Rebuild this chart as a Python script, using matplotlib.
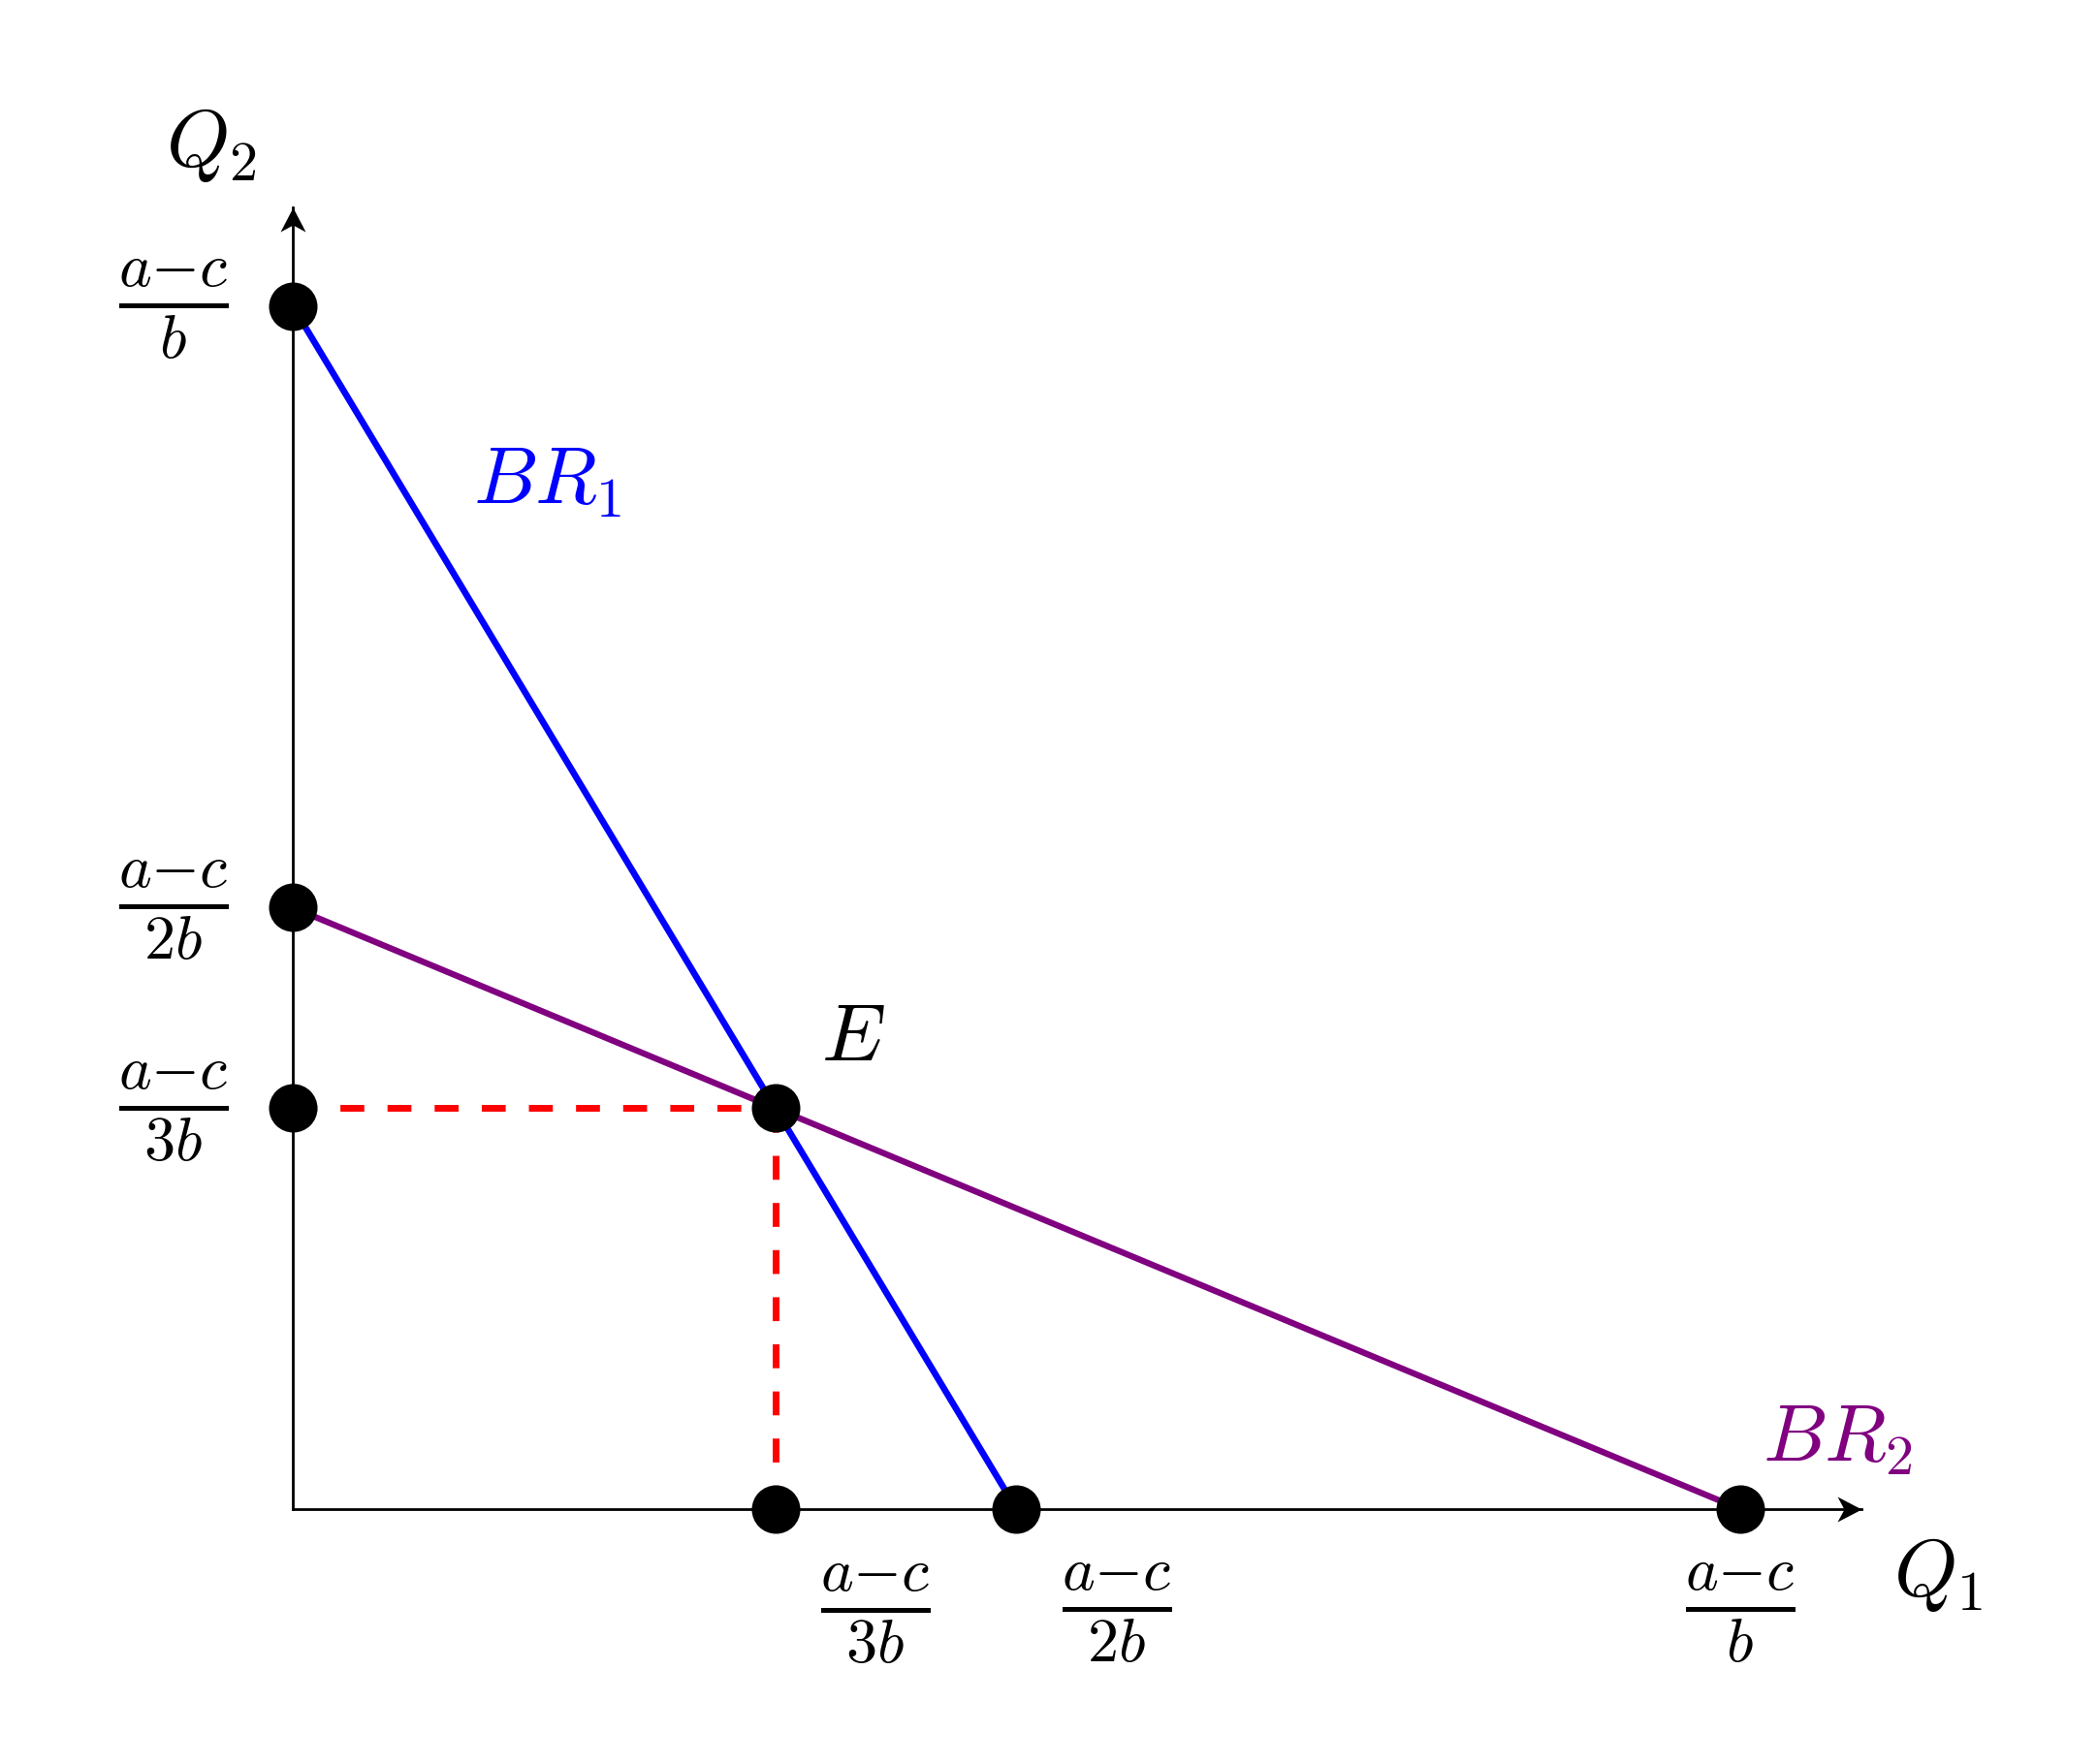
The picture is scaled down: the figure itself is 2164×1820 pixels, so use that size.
import numpy as np
import matplotlib.pyplot as plt
from matplotlib.path import Path

plt.rcParams['mathtext.fontset'] = 'cm'

# best response lines (units of (a-c)/b)
br1_q1 = [0, 1/2]
br1_q2 = [1, 0]
br2_q1 = [0, 1]
br2_q2 = [1/2, 0]

# equilibrium
eq_q1 = 1/3
eq_q2 = 1/3

# marked points
pts_q1 = [0, 0, 0, 1/3, 1/3, 1/2, 1]
pts_q2 = [1, 1/2, 1/3, 1/3, 0, 0, 0]

# tick labels
ytick_vals = [1, 1/2, 1/3]
ytick_labels = [r'$\frac{a{-}c}{b}$', r'$\frac{a{-}c}{2b}$', r'$\frac{a{-}c}{3b}$']
xtick_vals = [1/3, 1/2, 1]
xtick_labels = [r'$\frac{a{-}c}{3b}$', r'$\frac{a{-}c}{2b}$', r'$\frac{a{-}c}{b}$']
xtick_shift = [0.069, 0.069, 0.0]

ax_end_x = 1.084
ax_end_y = 1.082

fig = plt.figure(figsize=(10.82, 9.1), dpi=200)
ax = fig.add_axes([0, 0, 1, 1])
ax.set_xlim(-0.2023, 1.2472)
ax.set_ylim(-0.2119, 1.2546)
ax.axis('off')

# axes lines + stealth-like arrow heads
ax.plot([0, ax_end_x], [0, 0], color='black', lw=1.0)
ax.plot([0, 0], [0, ax_end_y], color='black', lw=1.0)
head_r = Path([(0, 0), (-1, 0.52), (-0.72, 0), (-1, -0.52), (0, 0)],
              [Path.MOVETO, Path.LINETO, Path.LINETO, Path.LINETO, Path.CLOSEPOLY])
head_u = Path([(0, 0), (0.52, -1), (0, -0.72), (-0.52, -1), (0, 0)],
              [Path.MOVETO, Path.LINETO, Path.LINETO, Path.LINETO, Path.CLOSEPOLY])
ax.plot([ax_end_x], [0], marker=head_r, color='black', ms=18, mew=0)
ax.plot([0], [ax_end_y], marker=head_u, color='black', ms=18, mew=0)

ax.plot(br1_q1, br1_q2, color='blue', lw=2.4, solid_capstyle='butt')
ax.plot(br2_q1, br2_q2, color='purple', lw=2.3, solid_capstyle='butt')

ax.plot([0, eq_q1], [eq_q2, eq_q2], color='red', lw=2.5, dashes=[3.55, 3.45])
ax.plot([eq_q1, eq_q1], [0, eq_q2], color='red', lw=2.5, dashes=[3.55, 3.45])

ax.plot(pts_q1, pts_q2, 'o', color='black', ms=17, zorder=5)

for v, lab in zip(ytick_vals, ytick_labels):
    ax.text(-0.0824, v - 0.003, lab, fontsize=33, ha='center', va='center')
for v, lab, s in zip(xtick_vals, xtick_labels, xtick_shift):
    ax.text(v + s, -0.087, lab, fontsize=33, ha='center', va='center')

ax.text(-0.056, 1.116, r'$Q_2$', fontsize=30, ha='center', va='baseline')
ax.text(1.137, -0.0725, r'$Q_1$', fontsize=30, ha='center', va='baseline')
ax.text(0.1755, 0.8356, r'$BR_1$', fontsize=30, color='blue', ha='center', va='baseline')
ax.text(1.067, 0.0395, r'$BR_2$', fontsize=30, color='purple', ha='center', va='baseline')
ax.text(0.387, 0.392, r'$E$', fontsize=30, ha='center', va='center')

fig.savefig('out.png', dpi=200)
